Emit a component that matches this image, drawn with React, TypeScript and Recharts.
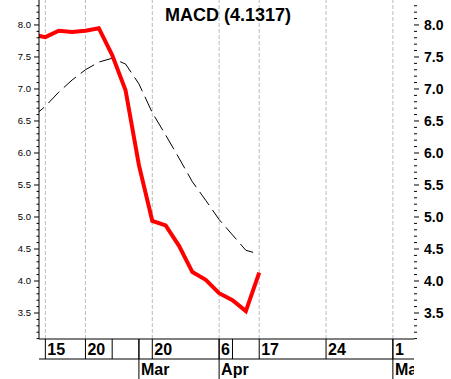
import React from "react";
import { LineChart, Line, XAxis, YAxis, ReferenceLine } from "recharts";

// bar index (weekly-ish spacing), -1 is the point just off the left edge
const idx = [-1, 0, 1, 2, 3, 4, 5, 6, 7, 8, 9, 10, 11, 12, 13, 14, 15, 16];
const macd = [7.85, 7.81, 7.91, 7.89, 7.91, 7.95, 7.53, 6.98, 5.81, 4.94, 4.87, 4.55, 4.14, 4.02, 3.81, 3.7, 3.53, 4.1317];
const signal = [6.55, 6.73, 6.95, 7.14, 7.3, 7.42, 7.48, 7.39, 7.08, 6.63, 6.28, 5.92, 5.55, 5.26, 4.96, 4.72, 4.48, 4.42];

const dayTicks = [0, 3, 5, 7, 8, 13, 14, 16, 21, 26];
const dayLabels = ["15", "20", "", "", "20", "6", "", "17", "24", "1"];
const monthTicks = [7, 13, 26];
const monthLabels = ["Mar", "Apr", "May"];
const gridLines = [0, 3, 8, 13, 16, 21, 26];

const majorTicks = [3.5, 4.0, 4.5, 5.0, 5.5, 6.0, 6.5, 7.0, 7.5, 8.0];
const yTicks: number[] = [];
for (let i = 31; i <= 83; i++) yTicks.push(i / 10);

const data = idx.map((x, i) => ({ x, macd: macd[i], signal: signal[i] }));

const W = 451;
const H = 379;
const PLOT_RIGHT = 414;
const LABEL_FONT = "'Liberation Sans', Arial, sans-serif";

const isMajor = (v: number) => majorTicks.some((m) => Math.abs(m - v) < 1e-6);

const LeftTick = (props: any) => {
  const { x, y, payload } = props;
  const major = isMajor(payload.value);
  return (
    <g>
      <line x1={x - (major ? 5 : 2.5)} x2={x} y1={y} y2={y} stroke="#000" />
      {major && (
        <text x={x - 8} y={y} dy="0.35em" textAnchor="end" fontSize={9.5} fontFamily={LABEL_FONT} fill="#000">
          {payload.value.toFixed(1)}
        </text>
      )}
    </g>
  );
};

const RightTick = (props: any) => {
  const { x, y, payload } = props;
  const major = isMajor(payload.value);
  return (
    <g>
      <line x1={x} x2={x + (major ? 5 : 3)} y1={y} y2={y} stroke="#000" />
      {major && (
        <text x={x + 10} y={y} dy="0.36em" fontSize={14} fontWeight="bold" fontFamily={LABEL_FONT} fill="#000">
          {payload.value.toFixed(1)}
        </text>
      )}
    </g>
  );
};

const DayTick = (props: any) => {
  const { x, y, payload } = props;
  const label = dayLabels[dayTicks.indexOf(payload.value)];
  return (
    <g>
      <line x1={x} x2={x} y1={y} y2={y + 20} stroke="#000" />
      <text x={x + 2} y={y + 16} fontSize={16} fontWeight="bold" fontFamily={LABEL_FONT} fill="#000">
        {label}
      </text>
    </g>
  );
};

const MonthTick = (props: any) => {
  const { x, y, payload } = props;
  const label = monthLabels[monthTicks.indexOf(payload.value)];
  return (
    <g>
      <line x1={x} x2={x} y1={y - 20} y2={y + 20} stroke="#000" />
      <svg x={x} y={y} width={Math.max(0, PLOT_RIGHT - x)} height={20} overflow="hidden">
        <text x={2} y={16} fontSize={16} fontWeight="bold" fontFamily={LABEL_FONT} fill="#000">
          {label}
        </text>
      </svg>
    </g>
  );
};

export default function App() {
  return (
    <div style={{ position: "absolute", left: 0, top: 0, width: W, height: H, background: "#fff" }}>
      <LineChart width={W} height={H} data={data} margin={{ top: 0, right: 0, bottom: 0, left: 0 }}>
        <XAxis
          xAxisId="day"
          dataKey="x"
          type="number"
          domain={[-0.475, 27.58]}
          allowDataOverflow
          ticks={dayTicks}
          interval={0}
          height={20}
          tickSize={0}
          tickMargin={0}
          tickLine={false}
          axisLine={{ stroke: "#000" }}
          tick={<DayTick />}
        />
        <XAxis
          xAxisId="month"
          dataKey="x"
          type="number"
          domain={[-0.475, 27.58]}
          allowDataOverflow
          ticks={monthTicks}
          interval={0}
          height={20}
          tickSize={0}
          tickMargin={0}
          tickLine={false}
          axisLine={{ stroke: "#000" }}
          tick={<MonthTick />}
        />
        <YAxis
          yAxisId="left"
          orientation="left"
          width={39}
          type="number"
          domain={[3.094, 8.39]}
          allowDataOverflow
          ticks={yTicks}
          interval={0}
          tickSize={0}
          tickMargin={0}
          tickLine={false}
          axisLine={{ stroke: "#000" }}
          tick={<LeftTick />}
        />
        <YAxis
          yAxisId="right"
          orientation="right"
          width={W - PLOT_RIGHT}
          type="number"
          domain={[3.094, 8.39]}
          allowDataOverflow
          ticks={yTicks}
          interval={0}
          tickSize={0}
          tickMargin={0}
          tickLine={false}
          axisLine={false}
          tick={<RightTick />}
        />
        {gridLines.map((g) => (
          <ReferenceLine
            key={g}
            x={g}
            xAxisId="day"
            yAxisId="left"
            stroke="#bbb"
            strokeDasharray="4 2"
          />
        ))}
        <Line
          xAxisId="day"
          yAxisId="right"
          dataKey="signal"
          stroke="#000"
          strokeWidth={1}
          strokeDasharray="16 6"
          dot={false}
          isAnimationActive={false}
        />
        <Line
          xAxisId="day"
          yAxisId="left"
          dataKey="macd"
          stroke="#ff0000"
          strokeWidth={4}
          dot={false}
          isAnimationActive={false}
        />
      </LineChart>
      <div
        style={{
          position: "absolute",
          left: 128,
          width: 200,
          top: 5,
          textAlign: "center",
          fontFamily: LABEL_FONT,
          fontWeight: "bold",
          fontSize: 18,
          lineHeight: "20px",
          color: "#000",
        }}
      >
        MACD (4.1317)
      </div>
    </div>
  );
}
